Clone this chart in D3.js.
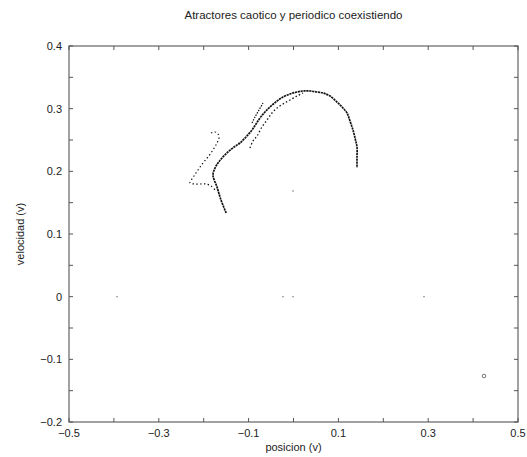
<!DOCTYPE html>
<html><head><meta charset="utf-8">
<script src="https://cdn.jsdelivr.net/npm/d3@7"></script>
<style>body{margin:0;background:#fff}svg{display:block}text{font-family:"Liberation Sans",Arial,sans-serif;fill:#222}</style>
</head><body><svg id="c" width="527" height="457"></svg>
<script>
// Data (posicion, velocidad)
const mainX = [-0.150,-0.1615,-0.1704,-0.1793,-0.1748,-0.1682,-0.1592,-0.1459,-0.1325,-0.1192,-0.1058,-0.0924,-0.0835,-0.0746,-0.0635,-0.0523,-0.0367,-0.0234,-0.0078,0.0078,0.0212,0.0367,0.0523,0.0657,0.0813,0.0969,0.1080,0.1192,0.1258,0.1325,0.1370,0.1414,0.1414,0.1414];
const mainY = [0.1335,0.1543,0.1750,0.1940,0.2053,0.2133,0.2213,0.2309,0.2388,0.2452,0.2548,0.2660,0.2755,0.2851,0.2947,0.3027,0.3122,0.3186,0.3234,0.3266,0.3282,0.3282,0.3266,0.3250,0.3202,0.3106,0.3027,0.2931,0.2803,0.2660,0.2532,0.2388,0.2229,0.2053];
const innerX = [-0.0969,-0.0902,-0.0813,-0.0702,-0.0590,-0.0479,-0.0367,-0.0234,-0.0078,0.0078,0.0212];
const innerY = [0.2372,0.2484,0.2564,0.2708,0.2819,0.2931,0.3011,0.3075,0.3138,0.3202,0.3250];
const earX = [-0.0924,-0.0857,-0.0768,-0.0679];
const earY = [0.2771,0.2867,0.2979,0.3090];
const periodicX = [-0.1837,-0.1748,-0.1682,-0.1659,-0.1704,-0.1793,-0.1904,-0.2016,-0.2127,-0.2216,-0.2305,-0.2194,-0.2082,-0.1949,-0.1837,-0.1748];
const periodicY = [0.2612,0.2628,0.2596,0.2532,0.2452,0.2341,0.2229,0.2133,0.2021,0.1926,0.1814,0.1798,0.1798,0.1798,0.1766,0.1702];
const strayX = [-0.3931,-0.0234,-0.0011,0.2906,-0.0011];
const strayY = [0.0,0.0,0.0,0.0,0.1686];
const markX = [0.4243];
const markY = [-0.1266];
const xTickValues = [-0.5,-0.4,-0.3,-0.2,-0.1,0,0.1,0.2,0.3,0.4,0.5];
const xTickLabels = ["−0.5","−0.3","−0.1","0.1","0.3","0.5"];
const xLabelValues = [-0.5,-0.3,-0.1,0.1,0.3,0.5];
const yTickValues = [-0.2,-0.15,-0.1,-0.05,0,0.05,0.1,0.15,0.2,0.25,0.3,0.35,0.4];
const yLabelValues = [-0.2,-0.1,0,0.1,0.2,0.3,0.4];
const yTickLabels = ["−0.2","−0.1","0","0.1","0.2","0.3","0.4"];
const title = "Atractores caotico y periodico coexistiendo";
const xTitle = "posicion (v)";
const yTitle = "velocidad (v)";

const L=69,R=518,T=46,B=422;
const svg=d3.select("#c");
const x=d3.scaleLinear().domain([-0.5,0.5]).range([L,R]);
const y=d3.scaleLinear().domain([-0.2,0.4]).range([B,T]);
const frame="#555";

// ticks (inward, all four sides)
const tl=4;
const g=svg.append("g").attr("stroke",frame).attr("stroke-width",1);
xTickValues.forEach(v=>{
  g.append("line").attr("x1",x(v)).attr("x2",x(v)).attr("y1",B).attr("y2",B-tl);
  g.append("line").attr("x1",x(v)).attr("x2",x(v)).attr("y1",T).attr("y2",T+tl);
});
yTickValues.forEach(v=>{
  g.append("line").attr("x1",L).attr("x2",L+tl).attr("y1",y(v)).attr("y2",y(v));
  g.append("line").attr("x1",R).attr("x2",R-tl).attr("y1",y(v)).attr("y2",y(v));
});
svg.append("rect").attr("x",L).attr("y",T).attr("width",R-L).attr("height",B-T)
  .attr("fill","none").attr("stroke",frame).attr("stroke-width",1.1);

xLabelValues.forEach((v,i)=>{
  svg.append("text").attr("x",x(v)).attr("y",B+15).attr("text-anchor","middle")
    .attr("font-size",11).text(xTickLabels[i]);
});
yLabelValues.forEach((v,i)=>{
  svg.append("text").attr("x",L-7).attr("y",y(v)+4).attr("text-anchor","end")
    .attr("font-size",11).text(yTickLabels[i]);
});
svg.append("text").attr("x",(L+R)/2).attr("y",19).attr("text-anchor","middle").attr("font-size",11.5).text(title);
svg.append("text").attr("x",(L+R)/2).attr("y",451).attr("text-anchor","middle").attr("font-size",11).text(xTitle);
svg.append("text").attr("transform",`translate(24,${(T+B)/2}) rotate(-90)`).attr("text-anchor","middle").attr("font-size",11).text(yTitle);

const line=d3.line().x(d=>x(d[0])).y(d=>y(d[1])).curve(d3.curveCatmullRom);
const zip=(a,b)=>a.map((v,i)=>[v,b[i]]);
svg.append("path").datum(zip(mainX,mainY)).attr("d",line).attr("fill","none")
  .attr("stroke","#111").attr("stroke-width",1.7).attr("stroke-dasharray","2.2,0.7");
svg.append("path").datum(zip(innerX,innerY)).attr("d",line).attr("fill","none")
  .attr("stroke","#111").attr("stroke-width",1.3).attr("stroke-dasharray","1.5,2.2");
svg.append("path").datum(zip(earX,earY)).attr("d",line).attr("fill","none")
  .attr("stroke","#111").attr("stroke-width",1.2).attr("stroke-dasharray","1.5,1.2");
svg.append("path").datum(zip(periodicX,periodicY)).attr("d",line).attr("fill","none")
  .attr("stroke","#111").attr("stroke-width",1.2).attr("stroke-dasharray","1.4,2.4");
svg.selectAll(".s").data(zip(strayX,strayY)).enter().append("rect")
  .attr("x",d=>x(d[0])-0.7).attr("y",d=>y(d[1])-0.7).attr("width",1.4).attr("height",1.4).attr("fill","#888");
svg.selectAll(".m").data(zip(markX,markY)).enter().append("circle")
  .attr("cx",d=>x(d[0])).attr("cy",d=>y(d[1])).attr("r",1.8).attr("fill","none").attr("stroke","#666").attr("stroke-width",0.9);
</script></body></html>
